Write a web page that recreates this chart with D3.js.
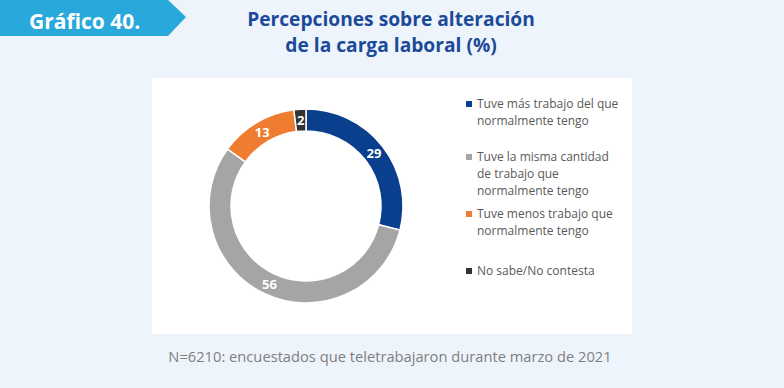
<!DOCTYPE html>
<html>
<head>
<meta charset="utf-8">
<script src="https://cdn.jsdelivr.net/npm/d3@7"></script>
<style>
  body { margin: 0; background: #eef4fb; }
  svg { display: block; font-family: "Open Sans", sans-serif; }
</style>
</head>
<body>
<div id="chart"></div>
<script>
(function () {
    const width = 784;
    const height = 388;

    // Data
    const categories = [
        ["Tuve más trabajo del que", "normalmente tengo"],
        ["Tuve la misma cantidad", "de trabajo que", "normalmente tengo"],
        ["Tuve menos trabajo que", "normalmente tengo"],
        ["No sabe/No contesta"]
    ];
    const values = [29, 56, 13, 2];
    const colors = ["#0a3f8d", "#a5a5a5", "#ee7d31", "#333333"];

    const svg = d3.select("#chart")
        .append("svg")
        .attr("width", width)
        .attr("height", height);

    svg.append("rect")
        .attr("width", width)
        .attr("height", height)
        .attr("fill", "#eef4fb");

    // Header banner
    svg.append("path")
        .attr("d", "M0,0 L168,0 L186,17 L168,36 L0,36 Z")
        .attr("fill", "#29a8dc");

    svg.append("text")
        .attr("x", 29)
        .attr("y", 29)
        .attr("fill", "#fff")
        .style("font-size", "21px")
        .style("font-weight", "bold")
        .text("Gráfico 40.");

    // Title
    const title = svg.append("text")
        .attr("text-anchor", "middle")
        .attr("fill", "#1c4a9a")
        .style("font-size", "19.2px")
        .style("font-weight", "bold");
    title.append("tspan").attr("x", 391).attr("y", 26).text("Percepciones sobre alteración");
    title.append("tspan").attr("x", 391).attr("y", 52).text("de la carga laboral (%)");

    // White panel
    svg.append("rect")
        .attr("x", 152)
        .attr("y", 78)
        .attr("width", 480)
        .attr("height", 256)
        .attr("fill", "#fff");

    // Donut
    const cx = 306, cy = 206;
    const outerR = 97, innerR = 75;

    const pie = d3.pie().sort(null).value(d => d);
    const arc = d3.arc().innerRadius(innerR).outerRadius(outerR);

    const g = svg.append("g").attr("transform", `translate(${cx},${cy})`);

    const arcs = pie(values);

    g.selectAll("path")
        .data(arcs)
        .enter()
        .append("path")
        .attr("d", arc)
        .attr("fill", (d, i) => colors[i])
        .attr("stroke", "#fff")
        .attr("stroke-width", 1.5);

    g.selectAll("text")
        .data(arcs)
        .enter()
        .append("text")
        .attr("transform", d => `translate(${arc.centroid(d)})`)
        .attr("text-anchor", "middle")
        .attr("dy", "0.36em")
        .attr("fill", "#fff")
        .style("font-size", "13px")
        .style("font-weight", "bold")
        .text(d => d.data);

    // Legend
    const legendTop = [108, 161, 218, 275];
    const legend = svg.append("g");
    categories.forEach((lines, i) => {
        legend.append("rect")
            .attr("x", 466)
            .attr("y", legendTop[i] - 7)
            .attr("width", 6)
            .attr("height", 6)
            .attr("fill", colors[i]);
        const t = legend.append("text")
            .attr("fill", "#595959")
            .style("font-size", "12px");
        lines.forEach((line, j) => {
            t.append("tspan")
                .attr("x", 477)
                .attr("y", legendTop[i] + j * 17)
                .text(line);
        });
    });

    // Footnote
    svg.append("text")
        .attr("x", 390)
        .attr("y", 362)
        .attr("text-anchor", "middle")
        .attr("fill", "#7f7f7f")
        .style("font-size", "14.7px")
        .text("N=6210: encuestados que teletrabajaron durante marzo de 2021");
})();
</script>
</body>
</html>
